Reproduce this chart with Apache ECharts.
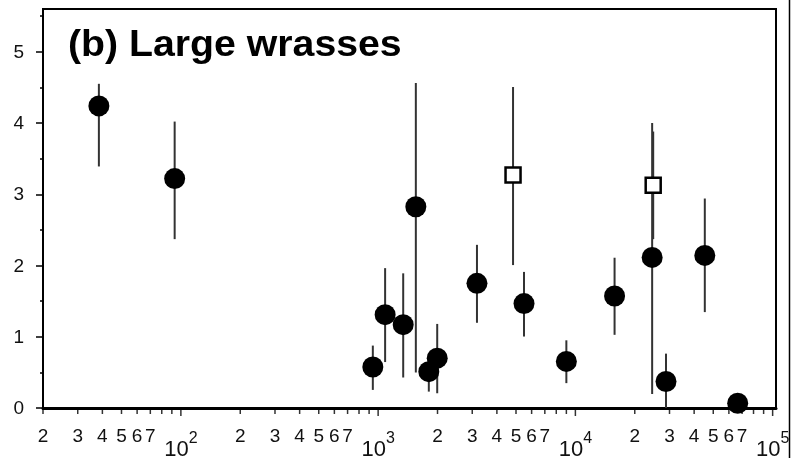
<!DOCTYPE html>
<html><head><meta charset="utf-8">
<script src="https://cdn.jsdelivr.net/npm/echarts@6/dist/echarts.min.js"></script>
<style>html,body{margin:0;padding:0;background:#fff}#c{width:791px;height:458px}</style>
</head><body><div id="c"></div>
<script>
const titleText = '(b) Large wrasses';
const circleX  = [38.4, 93, 940, 1085, 1340, 1553, 1807, 1993, 3170, 5490, 9000, 15800, 24500, 28800, 45300, 66500];
const circleY  = [4.24, 3.22, 0.575, 1.31, 1.17, 2.825, 0.51, 0.70, 1.75, 1.465, 0.654, 1.572, 2.114, 0.372, 2.142, 0.066];
const circleLo = [3.39, 2.37, 0.254, 0.645, 0.428, 0.50, 0.23, 0.207, 1.196, 1.003, 0.349, 1.027, 0.198, 0.0, 1.346, null];
const circleHi = [4.55, 4.02, 0.876, 1.963, 1.89, 4.56, 0.75, 1.18, 2.29, 1.91, 0.95, 2.109, 4.0, 0.763, 2.94, null];
const squareX  = [4830, 24800];
const squareY  = [3.27, 3.126];
const squareLo = [2.006, 2.37];
const squareHi = [4.505, 3.88];
const xDecades = [10, 100, 1000, 10000];
const xMinorDigits = [2, 3, 4, 5, 6, 7, 8, 9];
const xLabelDigits = ['2', '3', '4', '5', '6', '7'];
const xMajorTicks = [100, 1000, 10000, 100000];
const xMajorExps = ['2', '3', '4', '5'];
const yMajorTicks = [0, 1, 2, 3, 4, 5];
const yMinorTicks = [0.5, 1.5, 2.5, 3.5, 4.5, 5.5];
const yLabels = ['0', '1', '2', '3', '4', '5'];

const FONT = 'Liberation Sans';
const X_MIN = 20, X_MAX = 104000;

const minorTickData = [];
const digitLabelData = [];
xDecades.forEach(d => {
  xMinorDigits.forEach(k => minorTickData.push([d * k, 0]));
  xLabelDigits.forEach(t => digitLabelData.push([d * Number(t), t]));
});
const majorTickData = xMajorTicks.map(v => [v, 0]);

const errData = [];
circleX.forEach((x, i) => { if (circleLo[i] != null) errData.push([x, circleLo[i], circleHi[i]]); });
squareX.forEach((x, i) => errData.push([x, squareLo[i], squareHi[i]]));

const chart = echarts.init(document.getElementById('c'), null, {renderer: 'canvas'});
chart.setOption({
  animation: false,
  backgroundColor: '#fff',
  grid: {left: 43, right: 15, top: 9, bottom: 50, show: true, borderColor: '#000', borderWidth: 2, backgroundColor: 'transparent'},
  xAxis: [
    {type: 'log', logBase: 10, min: X_MIN, max: X_MAX, position: 'bottom',
     axisLine: {show: true, lineStyle: {color: '#000', width: 2}},
     axisTick: {show: false}, axisLabel: {show: false}, splitLine: {show: false}},
    {type: 'log', logBase: 10, min: X_MIN, max: X_MAX, position: 'top',
     axisLine: {show: true, lineStyle: {color: '#000', width: 3}},
     axisTick: {show: false}, axisLabel: {show: false}, splitLine: {show: false}}
  ],
  yAxis: [
    {type: 'value', min: 0, max: 5.6, interval: 1, position: 'left',
     axisLine: {show: true, lineStyle: {color: '#000', width: 2}},
     axisTick: {show: true, length: 7, customValues: yMajorTicks, lineStyle: {color: '#000', width: 1.5}},
     axisLabel: {show: false},
     splitLine: {show: false}},
    {type: 'value', min: 0, max: 5.6, interval: 0.5, position: 'left',
     axisLine: {show: false},
     axisTick: {show: true, length: 3, customValues: yMinorTicks, lineStyle: {color: '#000', width: 1.5}},
     axisLabel: {show: false}, splitLine: {show: false}}
  ],
  series: [
    {type: 'custom', name: 'err', data: errData, encode: {x: 0, y: [1, 2]}, clip: false, silent: true, z: 2,
     renderItem: function (params, api) {
       const p1 = api.coord([api.value(0), api.value(1)]);
       const p2 = api.coord([api.value(0), api.value(2)]);
       return {type: 'line', shape: {x1: p1[0], y1: p1[1], x2: p2[0], y2: p2[1]},
               style: {stroke: '#333', lineWidth: 2}};
     }},
    {type: 'scatter', name: 'circles', data: circleX.map((x, i) => [x, circleY[i]]),
     symbol: 'circle', symbolSize: 21, itemStyle: {color: '#000', opacity: 1}, clip: false, silent: true, z: 3},
    {type: 'scatter', name: 'squares', data: squareX.map((x, i) => [x, squareY[i]]),
     symbol: 'rect', symbolSize: 15, itemStyle: {color: '#fff', borderColor: '#000', borderWidth: 2.5, opacity: 1}, clip: false, silent: true, z: 4},
    {type: 'scatter', name: 'minorTicks', data: minorTickData, symbol: 'rect', symbolSize: [1.5, 6], symbolOffset: [0, 3],
     itemStyle: {color: '#000'}, clip: false, silent: true, z: 5},
    {type: 'scatter', name: 'majorTicks', data: majorTickData, symbol: 'rect', symbolSize: [1.5, 8], symbolOffset: [0, 4],
     itemStyle: {color: '#000'}, clip: false, silent: true, z: 5}
  ]
});

// Tick labels placed through the chart's own scales
const g = [];
g.push({type: 'text', x: 68, y: 46, scaleX: 1.09, z: 100,
  style: {text: titleText, fontSize: 36, fontWeight: 'bold', fontFamily: FONT, fill: '#000', verticalAlign: 'middle', align: 'left'}});
g.push({type: 'line', z: 100, shape: {x1: 789.5, y1: 0, x2: 789.5, y2: 458}, style: {stroke: '#000', lineWidth: 1.5}});
digitLabelData.forEach(d => {
  const p = chart.convertToPixel({xAxisIndex: 0, yAxisIndex: 0}, [d[0], 0]);
  g.push({type: 'text', x: p[0], y: p[1] + 29, z: 100,
    style: {text: d[1], fontSize: 19, fontFamily: FONT, fill: '#111', align: 'center', verticalAlign: 'middle'}});
});
xMajorTicks.forEach((v, i) => {
  const p = chart.convertToPixel({xAxisIndex: 0, yAxisIndex: 0}, [v, 0]);
  g.push({type: 'text', x: p[0], y: p[1] + 38, z: 100,
    style: {text: '{b|10}{s|' + xMajorExps[i] + '}', align: 'center', verticalAlign: 'middle',
      rich: {b: {fontSize: 22, lineHeight: 30, verticalAlign: 'bottom', fontFamily: FONT, fill: '#111'},
             s: {fontSize: 16, lineHeight: 16, verticalAlign: 'top', fontFamily: FONT, fill: '#111'}}}});
});
yMajorTicks.forEach((v, i) => {
  const p = chart.convertToPixel({xAxisIndex: 0, yAxisIndex: 0}, [X_MIN, v]);
  g.push({type: 'text', x: p[0] - 19, y: p[1] + 1, z: 100,
    style: {text: yLabels[i], fontSize: 19, fontFamily: FONT, fill: '#111', align: 'right', verticalAlign: 'middle'}});
});
chart.setOption({graphic: g});
</script></body></html>
